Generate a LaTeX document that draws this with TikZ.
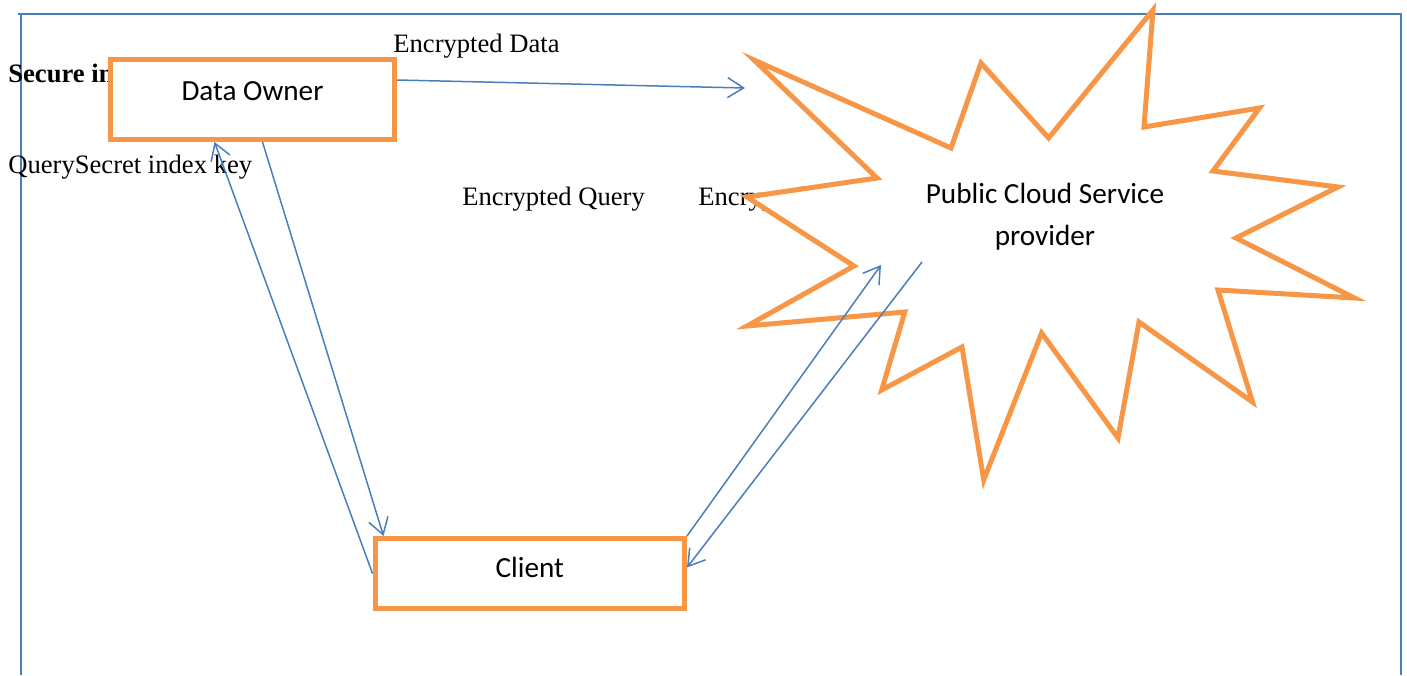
\documentclass[tikz,border=0pt]{standalone}
\usepackage{fontspec}
\setmainfont{Liberation Serif}
\newfontfamily\boxfont{Carlito}
\usepackage{tikz}
\usetikzlibrary{arrows.meta}
\definecolor{lineblue}{HTML}{4A7EBB}
\definecolor{boxorange}{HTML}{F79646}

\begin{document}
\begin{tikzpicture}[
  x=0.5pt,y=-0.5pt,
  box/.style={draw=boxorange,line width=2.5pt,fill=white,inner sep=0pt,
    font=\boxfont\fontsize{14.6}{17}\selectfont},
  txt/.style={anchor=base west,inner sep=0pt,font=\fontsize{13.3}{16}\selectfont},
  link/.style={draw=lineblue,line width=0.75pt,-{Straight Barb[length=8pt,width=10pt]}},
  burst/.style={draw=boxorange,line width=2.5pt,fill=white},
  pageline/.style={draw=lineblue,line width=0.75pt}]
  \useasboundingbox (0,0) rectangle (1407,675);

  % page frame
  \draw[pageline] (21,675) -- (21,14);
  \draw[pageline] (18,14) -- (1401,14) -- (1401,675);

  % labels
  \node (secure) [txt,font=\bfseries\fontsize{13.3}{16}\selectfont] at (8,82) {Secure in};
  \node (keylbl) [txt] at (8,173) {QuerySecret index key};
  \node (datalbl) [txt] at (393,52) {Encrypted Data};
  \node (querylbl) [txt] at (462,205) {Encrypted Query};
  \node (resultlbl) [txt] at (698,205) {Encrypted};

  % parties
  \node (owner) [box,minimum width=142pt,minimum height=40pt,text depth=8.8pt] at (252.5,99.5) {Data Owner};
  \node (client) [box,minimum width=154.75pt,minimum height=35pt,text depth=6pt] at (529.75,573.5) {Client};

  % cloud provider burst
  \draw[burst] (1153,10) -- (1144,127) -- (1259.5,108) -- (1213,171) -- (1338,187)
    -- (1236,238) -- (1354.5,298) -- (1218,290) -- (1252.5,402) -- (1139,322)
    -- (1118,438) -- (1041.6,333) -- (983.7,480) -- (962,347) -- (881.7,390)
    -- (904.8,312) -- (747,326) -- (854,266) -- (747,197) -- (877,178)
    -- (754,60) -- (951,148) -- (981,63) -- (1048.6,138) -- cycle;
  \node (csp) [align=center,inner sep=0pt,font=\boxfont\fontsize{14.6}{21}\selectfont] at (1045,216.5)
    {Public Cloud Service\\provider};
  \coordinate (dataend) at (745,88);
  \coordinate (cspin) at (881,265);
  \coordinate (cspout) at (922,262);

  % flows
  \draw[link] ([yshift=9.75pt]owner.east) -- (dataend);
  \draw[link] ([xshift=5pt]owner.south) -- ([xshift=5.5pt]client.north west);
  \draw[link] (client.west) -- ([xshift=-19pt]owner.south);
  \draw[link] (client.north east) -- (cspin);
  \draw[link] (cspout) -- ([yshift=3pt]client.east);
\end{tikzpicture}
\end{document}
